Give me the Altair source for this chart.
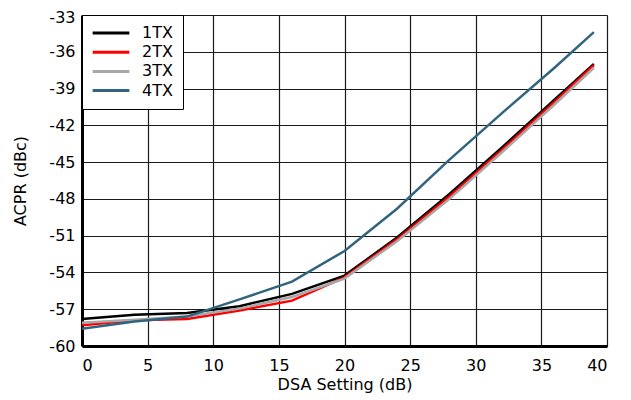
import altair as alt
import pandas as pd

dsa = [0, 4, 8, 12, 16, 20, 24, 28, 32, 36, 39]
tx1 = [-57.8, -57.45, -57.3, -56.75, -55.75, -54.26, -51.15, -47.6, -43.8, -39.9, -37.0]
tx2 = [-58.3, -57.9, -57.8, -57.1, -56.3, -54.4, -51.3, -47.8, -44.0, -40.1, -37.1]
tx3 = [-58.1, -57.85, -57.6, -56.95, -56.0, -54.5, -51.45, -48.0, -44.2, -40.3, -37.3]
tx4 = [-58.6, -58.0, -57.6, -56.2, -54.75, -52.25, -48.8, -44.8, -41.0, -37.3, -34.4]

series = ["1TX", "2TX", "3TX", "4TX"]
colors = ["#000000", "#ff0000", "#a8a8a8", "#31657f"]
x_ticks = [0, 5, 10, 15, 20, 25, 30, 35, 40]
y_ticks = [-60, -57, -54, -51, -48, -45, -42, -39, -36, -33]

rows = []
for name, vals in zip(series, [tx1, tx2, tx3, tx4]):
    for x, y in zip(dsa, vals):
        rows.append({"DSA": x, "ACPR": y, "Series": name})
df = pd.DataFrame(rows)
order_map = {"3TX": 0, "2TX": 1, "1TX": 2, "4TX": 3}
df["ord"] = df["Series"].map(order_map)

font = "DejaVu Sans"
fs = 16

axis_common = dict(tickSize=0, labelFontSize=fs, titleFontSize=fs, labelFont=font,
                   titleFont=font, gridColor="#1a1a1a", gridWidth=1.2, gridOpacity=1,
                   domainColor="black", domainWidth=3, labelColor="black",
                   titleColor="black", titleFontWeight="normal",
                   labelExpr="'' + datum.value")

chart = alt.Chart(df).mark_line(strokeWidth=2.5).encode(
    x=alt.X("DSA:Q", title="DSA Setting (dB)",
            scale=alt.Scale(domain=[0, 40], nice=False, zero=False),
            axis=alt.Axis(values=x_ticks, labelPadding=11, titlePadding=3, **axis_common)),
    y=alt.Y("ACPR:Q", title="ACPR (dBc)",
            scale=alt.Scale(domain=[-60, -33], nice=False, zero=False),
            axis=alt.Axis(values=y_ticks, labelPadding=7, titlePadding=20,
                          labelOffset=alt.condition("datum.value == -33",
                                                    alt.value(2.5), alt.value(0)),
                          **axis_common)),
    color=alt.Color("Series:N", scale=alt.Scale(domain=series, range=colors),
                    legend=alt.Legend(title=None, orient="top-left", offset=0,
                                      strokeColor="black",
                                      fillColor="white", padding=10,
                                      symbolType="M-3,0H3", symbolSize=150,
                                      symbolOffset=11, symbolStrokeWidth=3,
                                      labelFontSize=fs, labelFont=font,
                                      labelColor="black",
                                      rowPadding=3.2, labelOffset=23)),
    order=alt.Order("ord:Q"),
    detail="Series:N",
).properties(
    width=525, height=331,
    autosize=alt.AutoSizeParams(type="none"),
    padding={"left": 74, "top": 7, "right": 16, "bottom": 54},
).configure_view(stroke="black", strokeWidth=3).configure_legend(
    strokeWidth=2
).configure(background="white")

chart.save("out.html", embed_options={"renderer": "svg", "actions": False})
